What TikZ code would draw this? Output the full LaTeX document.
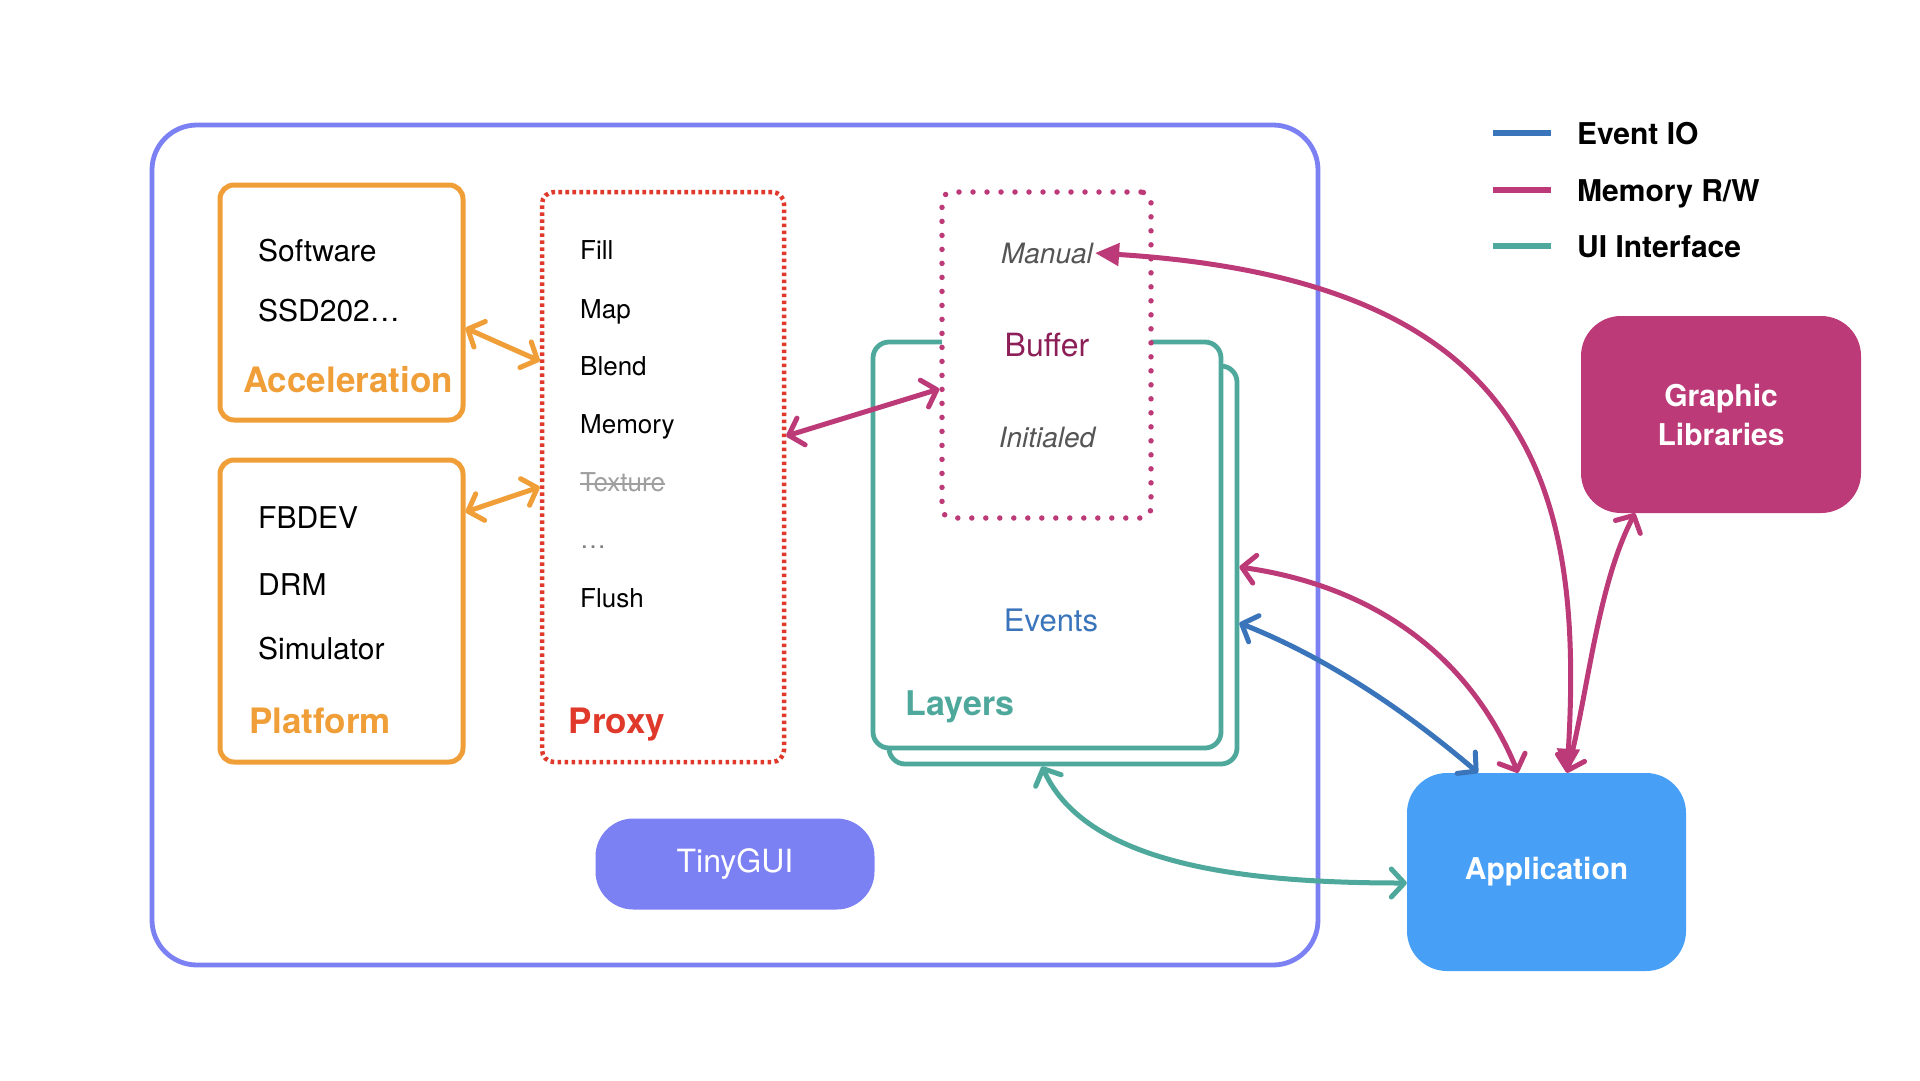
\documentclass[tikz,border=0pt]{standalone}
\usepackage{fontspec}
\setmainfont{TeX Gyre Heros}
\usetikzlibrary{arrows.meta}
\definecolor{frameblue}{HTML}{7B80F3}
\definecolor{orangeA}{HTML}{F09E38}
\definecolor{proxyred}{HTML}{E0392C}
\definecolor{mag}{HTML}{BD3A78}
\definecolor{bufdark}{HTML}{8C1F58}
\definecolor{tealc}{HTML}{4EA89B}
\definecolor{evblue}{HTML}{3A74BA}
\definecolor{appblue}{HTML}{48A0F6}
\definecolor{glmag}{HTML}{BB3A77}
\definecolor{itgray}{HTML}{555555}
\begin{document}
\begin{tikzpicture}[x=1pt,y=-1pt,
  obox/.style={draw=orangeA, line width=5pt, rounded corners=14pt, inner sep=0pt},
  tbox/.style={draw=tealc, fill=white, line width=4.8pt, rounded corners=16pt, inner sep=0pt},
  ltxt/.style={inner sep=0pt, anchor=base west, font=\fontsize{30}{36}\selectfont},
  ptxt/.style={inner sep=0pt, anchor=base west, font=\fontsize{26}{31}\selectfont},
  head/.style={inner sep=0pt, font=\bfseries\fontsize{35}{42}\selectfont},
  itxt/.style={inner sep=2pt, text=itgray, font=\itshape\fontsize{28}{34}\selectfont},
  legtxt/.style={inner sep=0pt, anchor=base west, font=\bfseries\fontsize{30}{36}\selectfont},
  bigbox/.style={rounded corners=40pt, inner sep=0pt, text=white, align=center, font=\bfseries\fontsize{30}{39}\selectfont},
  barbs/.style={line width=5pt, {Straight Barb[length=13pt,width=28pt,round]}-{Straight Barb[length=13pt,width=28pt,round]}},
  tris/.style={line width=5pt, {Triangle[length=24pt,width=22pt]}-{Triangle[length=24pt,width=22pt]}}
]
\fill[white] (0,0) rectangle (1920,1080);
\useasboundingbox (0,0) rectangle (1920,1080);

% outer frame
\node[draw=frameblue, line width=4.8pt, rounded corners=45pt, inner sep=0pt,
      minimum width=1166pt, minimum height=840pt] (frame) at (735,545) {};
\node[fill=frameblue, rounded corners=38pt, inner sep=0pt, minimum width=279pt, minimum height=91pt,
      text=white, font=\fontsize{32}{38}\selectfont] (tinygui) at (735,864) {TinyGUI};

% acceleration & platform
\node[obox, minimum width=243pt, minimum height=235pt] (accel) at (341.5,302.5) {};
\node[obox, minimum width=243pt, minimum height=302pt] (platform) at (341.5,611) {};
\node[ltxt] (sw) at (258,261) {Software};
\node[ltxt] (ssd) at (258,321) {SSD202…};
\node[head, text=orangeA] (acclab) at (348,380) {Acceleration};
\node[ltxt] (fbdev) at (258,528) {FBDEV};
\node[ltxt] (drm) at (258,595) {DRM};
\node[ltxt] (sim) at (258,659) {Simulator};
\node[head, text=orangeA] (platlab) at (320,721) {Platform};

% proxy
\node[draw=proxyred, line width=4.5pt, dash pattern=on 3.6pt off 3.4pt, rounded corners=12pt, inner sep=0pt,
      minimum width=242pt, minimum height=570pt] (proxy) at (663,477) {};
\node[ptxt] (fill) at (580,259.5) {Fill};
\node[ptxt] (map) at (580,318.5) {Map};
\node[ptxt] (blend) at (580,375.5) {Blend};
\node[ptxt] (memory) at (580,433.5) {Memory};
\node[ptxt, text=gray!75] (texture) at (580,491.5) {Texture};
\draw[gray!75, line width=1.6pt] ([yshift=7.5pt]texture.base west) -- ([yshift=7.5pt]texture.base east);
\node[ptxt, text=gray] (dots) at (580,548) {…};
\node[ptxt] (flush) at (580,607.5) {Flush};
\node[head, text=proxyred] (proxylab) at (617,725) {Proxy};

% layers
\node[tbox, minimum width=348pt, minimum height=398pt] (layersback) at (1063,565) {};
\node[tbox, minimum width=348pt, minimum height=406pt] (layers) at (1047,545) {};
\node[inner sep=0pt, text=evblue, font=\fontsize{31}{37}\selectfont] (events) at (1051,620) {Events};
\node[head, text=tealc, font=\bfseries\fontsize{34}{40}\selectfont] (layerslab) at (960,707) {Layers};

% buffer
\node[draw=mag, fill=white, line width=5.5pt, line cap=round, dash pattern=on 0pt off 14pt,
      rounded corners=10pt, inner sep=0pt, minimum width=209pt, minimum height=326pt] (buffer) at (1046.5,355) {};
\node[itxt] (manual) at (1047,253) {Manual};
\node[inner sep=0pt, text=bufdark, font=\fontsize{32}{38}\selectfont] (buflab) at (1047,345) {Buffer};
\node[itxt] (init) at (1047,437) {Initialed};

% right boxes
\node[bigbox, fill=glmag, minimum width=280pt, minimum height=197pt] (gl) at (1721,414.5) {Graphic\\Libraries};
\node[bigbox, fill=appblue, minimum width=279pt, minimum height=198pt] (app) at (1546.5,872) {Application};

% legend
\coordinate (l1a) at (1493,133); \coordinate (l1b) at (1551,133);
\coordinate (l2a) at (1493,190); \coordinate (l2b) at (1551,190);
\coordinate (l3a) at (1493,246); \coordinate (l3b) at (1551,246);
\draw[evblue, line width=5.5pt] (l1a) -- (l1b);
\draw[mag, line width=5.5pt] (l2a) -- (l2b);
\draw[tealc, line width=5.5pt] (l3a) -- (l3b);
\node[legtxt] (leg1) at (1577,144) {Event IO};
\node[legtxt] (leg2) at (1577,201) {Memory R/W};
\node[legtxt] (leg3) at (1577,257) {UI Interface};

% connectors
\draw[orangeA, barbs] (accel.east |- 0,328) -- (proxy.west |- 0,361);
\draw[orangeA, barbs] (platform.east |- 0,512) -- (proxy.west |- 0,487);
\draw[mag, barbs] (proxy.east |- 0,436) -- (buffer.west |- 0,389);
\draw[mag, tris] (manual.east) .. controls (1520,280) and (1585,470) .. (app.north -| 1567,0);
\draw[mag, barbs] (gl.south -| 1635,0) .. controls (1597,586) and (1588,694) .. (app.north -| 1567,0);
\draw[mag, barbs] (layersback.east |- 0,567) .. controls (1400,590) and (1480,680) .. (app.north -| 1518,0);
\draw[evblue, barbs] (layersback.east |- 0,623) .. controls (1330,659) and (1408,713) .. (app.north -| 1478,0);
\draw[tealc, barbs] (layersback.south -| 1042,0) .. controls (1088,868) and (1255,883) .. (app.west |- 0,883);
\end{tikzpicture}
\end{document}
